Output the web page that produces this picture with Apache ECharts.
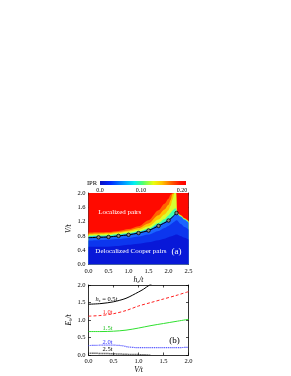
<!DOCTYPE html>
<html><head><meta charset="utf-8">
<script src="https://cdn.jsdelivr.net/npm/echarts@6/dist/echarts.min.js"></script>
<style>html,body{margin:0;padding:0;background:#fff}#c{width:291px;height:376px}</style>
</head><body><div id="c"></div>
<script>
// ---------- panel (a): IPR phase diagram, contour lines ----------
const hGrid = [0, 0.25, 0.5, 0.75, 1.0, 1.25, 1.5, 1.75, 1.9, 2.0, 2.05, 2.1, 2.15, 2.19, 2.21, 2.3, 2.4, 2.5];
const cRedOrange   = [0.89,0.90,0.91,0.94,0.99,1.07,1.24,1.52,1.70,1.84,1.95,2.00,2.00,2.00,1.47,1.39,1.30,1.22];
const cOrangeYel   = [0.86,0.87,0.88,0.91,0.95,1.02,1.15,1.38,1.54,1.67,1.80,1.97,2.00,2.00,1.46,1.38,1.29,1.21];
const cYelGreen    = [0.83,0.84,0.85,0.88,0.92,0.97,1.07,1.26,1.40,1.52,1.64,1.82,2.00,2.00,1.45,1.37,1.28,1.20];
const cGreenCyan   = [0.80,0.81,0.82,0.85,0.88,0.93,1.01,1.16,1.27,1.37,1.44,1.51,1.56,1.57,1.44,1.36,1.27,1.19];
const cCyanBlue    = [0.77,0.78,0.79,0.82,0.85,0.90,0.97,1.11,1.19,1.26,1.30,1.35,1.40,1.44,1.42,1.34,1.25,1.17];
const cBlueMid     = [0.67,0.68,0.69,0.71,0.74,0.78,0.84,0.94,1.02,1.08,1.12,1.16,1.20,1.24,1.24,1.14,1.05,0.98];
const cBlueDark    = [0.50,0.50,0.50,0.52,0.55,0.58,0.62,0.68,0.72,0.76,0.78,0.80,0.82,0.84,0.84,0.80,0.75,0.70];
const boundaryH = [0, 0.25, 0.5, 0.75, 1.0, 1.25, 1.5, 1.75, 2.0, 2.2];
const boundaryV = [0.75, 0.76, 0.77, 0.80, 0.83, 0.88, 0.95, 1.08, 1.23, 1.44];
const iprTicks = ['0.0', '0.10', '0.20'];

// ---------- panel (b): binding energies ----------
const vB = [0, 0.25, 0.5, 0.75, 1.0, 1.25, 1.5, 1.75, 2.0];
const e05V = [0, 0.25, 0.5, 0.75, 1.0, 1.1, 1.22, 1.3];
const e05  = [1.45, 1.47, 1.52, 1.62, 1.80, 1.88, 2.00, 2.06];
const e10  = [1.11, 1.13, 1.18, 1.27, 1.40, 1.50, 1.60, 1.70, 1.81];
const e15  = [0.67, 0.67, 0.68, 0.71, 0.77, 0.84, 0.90, 0.96, 1.02];
const e20V = [0, 0.25, 0.5, 0.65, 0.8, 1.0, 1.25, 1.5, 1.75, 2.0];
const e20  = [0.27, 0.28, 0.28, 0.27, 0.23, 0.21, 0.21, 0.21, 0.21, 0.22];
const e25V = [0, 0.25, 0.5, 0.75, 1.0, 1.25];
const e25  = [0.05, 0.045, 0.035, 0.02, 0.01, 0.0];

const FONT = 'Liberation Serif';
const chart = echarts.init(document.getElementById('c'), null, {renderer: 'canvas'});
const pairs = (xs, ys) => xs.map((x, i) => [x, ys[i]]);

function axisBase(extra) {
  return Object.assign({
    type: 'value',
    axisLine: {show: true, onZero: false, lineStyle: {color: '#000', width: 0.8}},
    axisTick: {show: true, inside: true, length: 2.5, lineStyle: {color: '#000', width: 0.7}},
    splitLine: {show: false},
    axisLabel: {fontFamily: FONT, fontSize: 6.5, color: '#000', margin: 3, formatter: v => v.toFixed(1)}
  }, extra);
}
function mirror(extra) {
  return axisBase(Object.assign({axisLabel: {show: false}}, extra));
}

const bandColors = ['#ff6400', '#ffc400', '#d8ff30', '#40ffb0', '#1a64ff', '#0c36ee', '#0818d8'];
const contours = [cRedOrange, cOrangeYel, cYelGreen, cGreenCyan, cCyanBlue, cBlueMid, cBlueDark];

const series = [];
series.push({type: 'line', xAxisIndex: 0, yAxisIndex: 0, data: [[0, 2], [2.5, 2]], symbol: 'none',
  lineStyle: {width: 0}, areaStyle: {color: '#ff0a00', opacity: 1}, silent: true, z: 1});
contours.forEach((c, k) => {
  series.push({type: 'line', xAxisIndex: 0, yAxisIndex: 0, data: pairs(hGrid, c), symbol: 'none',
    smooth: 0.3, smoothMonotone: 'x', lineStyle: {width: 0}, areaStyle: {color: bandColors[k], opacity: 1},
    silent: true, z: 1});
});
series.push({type: 'line', xAxisIndex: 0, yAxisIndex: 0, z: 3,
  data: boundaryH.map((h, i) => i === 0 ? {value: [h, boundaryV[i]], symbol: 'none'} : [h, boundaryV[i]]),
  symbol: 'circle', symbolSize: 3.5, smooth: 0.3,
  lineStyle: {color: '#000', width: 1},
  itemStyle: {color: '#888', borderColor: '#000', borderWidth: 0.8}});

// colorbar
series.push({type: 'line', xAxisIndex: 4, yAxisIndex: 4, data: [[0, 1], [0.21, 1]], symbol: 'none',
  lineStyle: {width: 0}, silent: true,
  areaStyle: {opacity: 1, color: new echarts.graphic.LinearGradient(0, 0, 1, 0, [
    {offset: 0, color: '#0a10c0'}, {offset: 0.12, color: '#0028ff'}, {offset: 0.3, color: '#00a8ff'},
    {offset: 0.4, color: '#00f0f0'}, {offset: 0.5, color: '#50ff70'}, {offset: 0.62, color: '#e8ff10'},
    {offset: 0.72, color: '#ffc800'}, {offset: 0.83, color: '#ff6000'}, {offset: 0.93, color: '#ff1000'},
    {offset: 1, color: '#ff0000'}])}});

// panel (b) lines
series.push({type: 'line', xAxisIndex: 2, yAxisIndex: 2, data: pairs(e05V, e05), symbol: 'none', smooth: 0.3,
  lineStyle: {color: '#000', width: 1}});
series.push({type: 'line', xAxisIndex: 2, yAxisIndex: 2, data: pairs(vB, e10), symbol: 'none', smooth: 0.3,
  lineStyle: {color: '#ff2020', width: 1, type: [3, 2]}});
series.push({type: 'line', xAxisIndex: 2, yAxisIndex: 2, data: pairs(vB, e15), symbol: 'none', smooth: 0.3,
  lineStyle: {color: '#30e030', width: 1}});
series.push({type: 'line', xAxisIndex: 2, yAxisIndex: 2, data: pairs(e20V, e20), symbol: 'none', smooth: 0.3,
  lineStyle: {color: '#3030ff', width: 1.2, type: [1, 1]}});
series.push({type: 'line', xAxisIndex: 2, yAxisIndex: 2, data: pairs(e25V, e25), symbol: 'none', smooth: 0.3,
  lineStyle: {color: '#222', width: 1.5, type: [1, 1]}});

const subRich = {
  i: {fontFamily: FONT, fontSize: 7.5, fontStyle: 'italic', color: '#000'},
  s: {fontFamily: FONT, fontSize: 5, fontStyle: 'italic', color: '#000', padding: [4, 0, 0, 0]}
};

chart.setOption({
  animation: false,
  grid: [
    {left: 88.5, top: 193, width: 100, height: 71.5},
    {left: 88.5, top: 285, width: 100, height: 70},
    {left: 100, top: 181, width: 86, height: 4}
  ],
  xAxis: [
    axisBase({gridIndex: 0, min: 0, max: 2.5, interval: 0.5, position: 'bottom',
      name: '{i|h}{s|z}{i|/t}', nameLocation: 'middle', nameGap: 11, nameTextStyle: {rich: subRich}}),
    mirror({gridIndex: 0, min: 0, max: 2.5, interval: 0.5, position: 'top'}),
    axisBase({gridIndex: 1, min: 0, max: 2.0, interval: 0.5, position: 'bottom',
      name: '{i|V/t}', nameLocation: 'middle', nameGap: 10, nameTextStyle: {rich: subRich}}),
    mirror({gridIndex: 1, min: 0, max: 2.0, interval: 0.5, position: 'top'}),
    {type: 'value', gridIndex: 2, min: 0, max: 0.21, interval: 0.1, position: 'bottom',
      axisLine: {show: false}, axisTick: {show: false}, splitLine: {show: false},
      axisLabel: {fontFamily: FONT, fontSize: 6, color: '#000', margin: 2,
        formatter: (v) => {
          const k = v / 0.1;
          return Math.abs(k - Math.round(k)) < 1e-6 ? iprTicks[Math.round(k)] : '';
        }}}
  ],
  yAxis: [
    axisBase({gridIndex: 0, min: 0, max: 2.0, interval: 0.4, position: 'left',
      name: '{i|V/t}', nameLocation: 'middle', nameGap: 13, nameRotate: 90, nameTextStyle: {rich: subRich}}),
    mirror({gridIndex: 0, min: 0, max: 2.0, interval: 0.4, position: 'right'}),
    axisBase({gridIndex: 1, min: 0, max: 2.0, interval: 0.5, position: 'left',
      name: '{i|E}{s|b}{i|/t}', nameLocation: 'middle', nameGap: 13, nameRotate: 90, nameTextStyle: {rich: subRich}}),
    mirror({gridIndex: 1, min: 0, max: 2.0, interval: 0.5, position: 'right'}),
    {type: 'value', gridIndex: 2, min: 0, max: 1, show: false}
  ],
  series: series
});

// annotations positioned through the axes
const P = (g, x, y) => chart.convertToPixel({gridIndex: g}, [x, y]);
function txt(g, x, y, text, color, size) {
  const p = P(g, x, y);
  return {type: 'text', x: p[0], y: p[1], z: 100,
    style: {text: text, fill: color, font: size + 'px "' + FONT + '"', textAlign: 'center', textVerticalAlign: 'middle'}};
}
const graphics = [
  txt(0, 0.78, 1.47, 'Localized pairs', '#fff', 7),
  txt(0, 1.06, 0.37, 'Delocalized Cooper pairs', '#fff', 7),
  txt(0, 2.2, 0.37, '(a)', '#fff', 9),
  txt(1, 1.72, 0.42, '(b)', '#000', 9),
  txt(1, 0.38, 1.23, '1.0t', '#ff2020', 6.5),
  txt(1, 0.38, 0.77, '1.5t', '#20c020', 6.5),
  txt(1, 0.38, 0.35, '2.0t', '#3030ff', 6.5),
  txt(1, 0.38, 0.15, '2.5t', '#000', 6.5)
];
const hp = P(1, 0.36, 1.6);
graphics.push({type: 'text', x: hp[0], y: hp[1], z: 100,
  style: {text: '{i|h}{s|z}{n| = 0.5}{i|t}', textAlign: 'center', textVerticalAlign: 'middle',
    rich: {i: {fontFamily: FONT, fontSize: 6.5, fontStyle: 'italic', fill: '#000'},
           s: {fontFamily: FONT, fontSize: 4.5, fontStyle: 'italic', fill: '#000', padding: [3, 0, 0, 0]},
           n: {fontFamily: FONT, fontSize: 6.5, fill: '#000'}}}});
const cb = chart.convertToPixel({gridIndex: 2}, [0, 0.5]);
graphics.push({type: 'text', x: cb[0] - 8, y: cb[1], z: 100,
  style: {text: 'IPR', fill: '#000', font: '6.5px "' + FONT + '"', textAlign: 'center', textVerticalAlign: 'middle'}});
chart.setOption({graphic: graphics});
</script>
</body></html>
